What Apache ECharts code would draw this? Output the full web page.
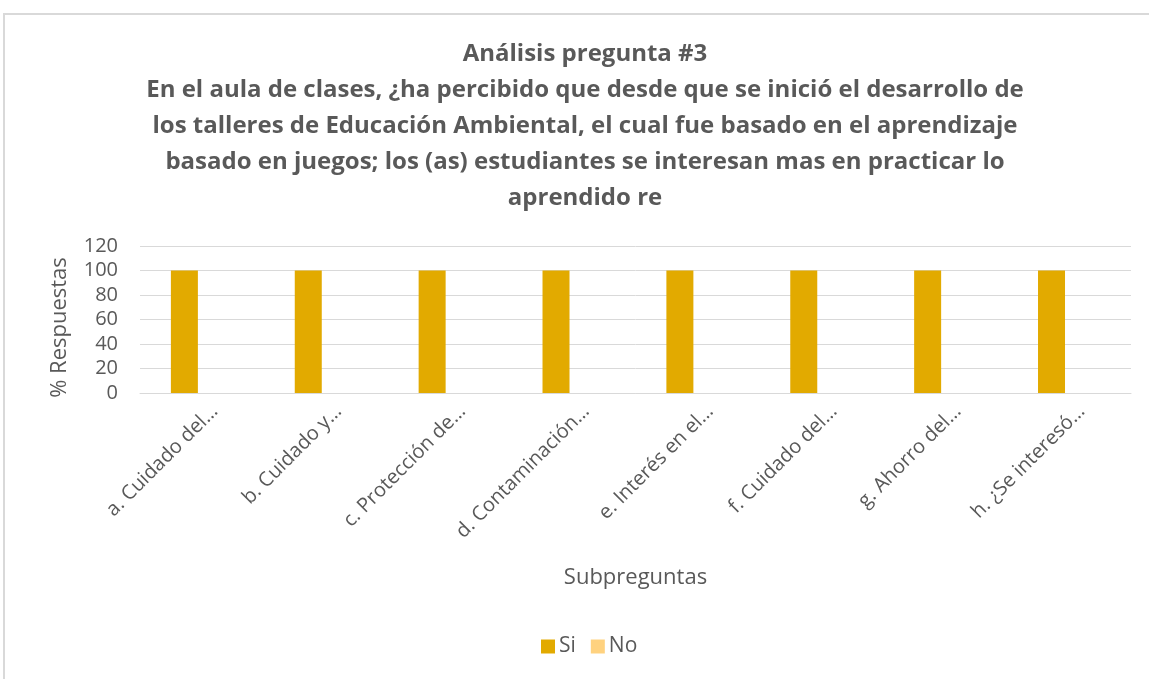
<!DOCTYPE html>
<html>
<head>
<meta charset="utf-8">
<script src="https://cdn.jsdelivr.net/npm/echarts@6/dist/echarts.min.js"></script>
<style>
  html, body { margin: 0; padding: 0; background: #fff; }
  #frame {
    position: absolute; left: 3px; top: 13px; width: 1146px; height: 666px;
    border-left: 2px solid #d9d9d9; border-top: 2px solid #d9d9d9;
  }
  #main { position: absolute; left: 0; top: 0; width: 1149px; height: 679px; }
</style>
</head>
<body>
<div id="frame"></div>
<div id="main"></div>
<script>
// categories as shown (truncated by the source chart)
const categories = [
  'a. Cuidado del…',
  'b. Cuidado y…',
  'c. Protección de…',
  'd. Contaminación…',
  'e. Interés en el…',
  'f. Cuidado del…',
  'g. Ahorro del…',
  'h. ¿Se interesó…'
];
const siValues = [100, 100, 100, 100, 100, 100, 100, 100];
const noValues = [0, 0, 0, 0, 0, 0, 0, 0];

const titleText = 'Análisis pregunta #3\n' +
  'En el aula de clases, ¿ha percibido que desde que se inició el desarrollo de\n' +
  'los talleres de Educación Ambiental, el cual fue basado en el aprendizaje\n' +
  'basado en juegos; los (as) estudiantes se interesan mas en practicar lo\n' +
  'aprendido re';

const textColor = '#595959';
const font = '"Open Sans", "Noto Sans", sans-serif';

const myChart = echarts.init(document.getElementById('main'));

const option = {
  textStyle: { fontFamily: font },
  title: {
    text: titleText,
    left: 580,
    top: 31,
    textAlign: 'center',
    textStyle: {
      fontFamily: font,
      fontSize: 24,
      fontWeight: 'bold',
      color: textColor,
      lineHeight: 36,
      align: 'center'
    }
  },
  legend: {
    data: ['Si', 'No'],
    top: 636,
    left: 541,
    padding: 0,
    itemWidth: 14,
    itemHeight: 14,
    itemGap: 15,
    icon: 'rect',
    textStyle: { fontSize: 21, color: textColor, fontFamily: font, padding: [0, 0, 0, -1] }
  },
  grid: { left: 140, right: 18, top: 246, bottom: 286 },
  xAxis: {
    type: 'category',
    data: categories,
    name: 'Subpreguntas',
    nameLocation: 'middle',
    nameGap: 174,
    nameTextStyle: { fontSize: 22, color: textColor, fontFamily: font },
    axisLine: { lineStyle: { color: '#d9d9d9', width: 1 } },
    axisTick: { show: false },
    axisLabel: {
      rotate: 45,
      interval: 0,
      fontSize: 20,
      color: textColor,
      margin: 28,
      padding: [0, -18, 0, 0],
      fontFamily: font
    }
  },
  yAxis: {
    type: 'value',
    min: 0,
    max: 120,
    interval: 20,
    name: '% Respuestas',
    nameLocation: 'middle',
    nameGap: 69,
    nameTextStyle: { fontSize: 22, color: textColor, fontFamily: font, padding: [0, 16, 0, 0] },
    axisLine: { show: false },
    axisTick: { show: false },
    axisLabel: { fontSize: 20, color: textColor, margin: 22, fontFamily: font },
    splitLine: { lineStyle: { color: '#d9d9d9', width: 1 } }
  },
  series: [
    {
      name: 'Si',
      type: 'bar',
      data: siValues,
      barWidth: 27,
      barGap: '30%',
      itemStyle: { color: '#e2aa00' }
    },
    {
      name: 'No',
      type: 'bar',
      data: noValues,
      barWidth: 27,
      itemStyle: { color: '#ffd27f' }
    }
  ]
};

myChart.setOption(option);
</script>
</body>
</html>
